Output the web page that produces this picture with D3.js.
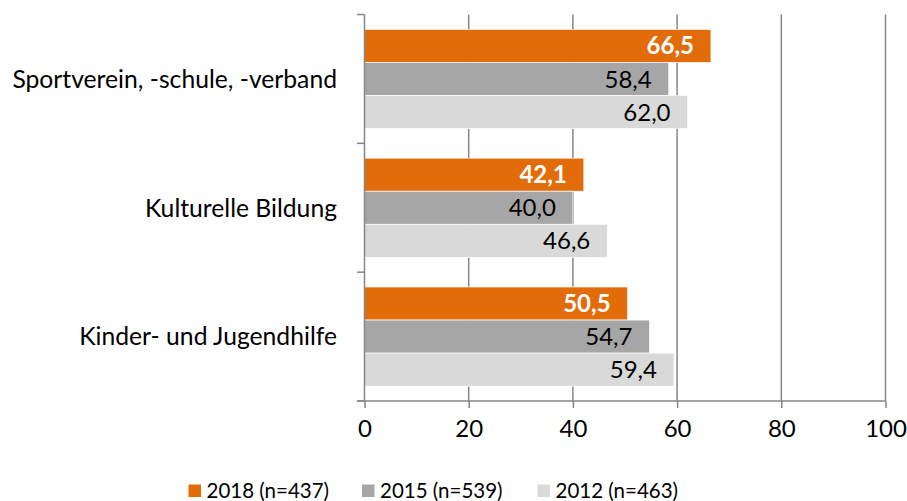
<!DOCTYPE html>
<html>
<head>
<meta charset="utf-8">
<script src="https://cdn.jsdelivr.net/npm/d3@7"></script>
<style>
  body { margin: 0; background: #fff; }
  svg text { font-family: Lato, "Open Sans", sans-serif; }
</style>
</head>
<body>
<svg id="chart" width="907" height="501"></svg>
<script>
// data
const categories = ['Sportverein, -schule, -verband', 'Kulturelle Bildung', 'Kinder- und Jugendhilfe'];
const seriesNames = ['2018 (n=437)', '2015 (n=539)', '2012 (n=463)'];
const values2018 = [66.5, 42.1, 50.5];
const values2015 = [58.4, 40.0, 54.7];
const values2012 = [62.0, 46.6, 59.4];
const xTicks = [0, 20, 40, 60, 80, 100];

const seriesColors = ['#E36C0A', '#A6A6A6', '#D9D9D9'];
const seriesValues = [values2018, values2015, values2012];

const svg = d3.select('#chart');
const gridColor = '#868686';

const x = d3.scaleLinear().domain([0, 100]).range([364.5, 885.5]);
const y = d3.scaleBand().domain(categories).range([14.5, 401])
  .paddingInner(0.23).paddingOuter(0.115);
const ySub = d3.scaleBand().domain(seriesNames).range([0, y.bandwidth()]);

// gridlines
svg.append('g')
  .selectAll('line')
  .data(xTicks.slice(1))
  .join('line')
  .attr('x1', d => x(d)).attr('x2', d => x(d))
  .attr('y1', 14.5).attr('y2', 401)
  .attr('stroke', gridColor)
  .attr('stroke-width', 1.5);

// bars
const rows = [];
categories.forEach((c, i) => {
  seriesNames.forEach((s, j) => {
    rows.push({ cat: c, series: s, idx: j, value: seriesValues[j][i] });
  });
});

const fmt = v => d3.format('.1f')(v).replace('.', ',');

const bars = svg.append('g')
  .selectAll('g')
  .data(rows)
  .join('g')
  .attr('transform', d => 'translate(0,' + (y(d.cat) + ySub(d.series)) + ')');

bars.append('rect')
  .attr('x', x(0))
  .attr('y', 0)
  .attr('width', d => x(d.value) - x(0))
  .attr('height', ySub.bandwidth())
  .attr('fill', d => seriesColors[d.idx])
  .attr('stroke', '#fff')
  .attr('stroke-width', 0.7);

bars.append('text')
  .attr('x', d => x(d.value) - 17)
  .attr('y', ySub.bandwidth() / 2)
  .attr('dy', '0.36em')
  .attr('text-anchor', 'end')
  .attr('font-size', 24)
  .attr('font-weight', d => d.idx === 0 ? 'bold' : 'normal')
  .attr('fill', d => d.idx === 0 ? '#fff' : '#000')
  .text(d => fmt(d.value));

// left axis: line plus ticks at band boundaries
const bandEdges = categories.map((c, i) => i === 0 ? 14.5 : y(c) - y.step() * y.paddingInner() / 2);
bandEdges.push(401);
const leftAxis = svg.append('g');
leftAxis.append('line')
  .attr('x1', x(0)).attr('x2', x(0))
  .attr('y1', 14.5).attr('y2', 401)
  .attr('stroke', gridColor).attr('stroke-width', 1.5);
leftAxis.selectAll('line.tick')
  .data(bandEdges)
  .join('line')
  .attr('class', 'tick')
  .attr('x1', x(0) - 7.5).attr('x2', x(0))
  .attr('y1', d => d).attr('y2', d => d)
  .attr('stroke', gridColor).attr('stroke-width', 1.5);

leftAxis.selectAll('text')
  .data(categories)
  .join('text')
  .attr('x', 337)
  .attr('y', d => y(d) + y.bandwidth() / 2)
  .attr('dy', '0.36em')
  .attr('text-anchor', 'end')
  .attr('font-size', 24.7)
  .attr('fill', '#000')
  .text(d => d);

// bottom axis
const bottomAxis = svg.append('g').attr('transform', 'translate(0,401)')
  .call(d3.axisBottom(x).tickValues(xTicks).tickSize(7).tickPadding(12).tickSizeOuter(0));
bottomAxis.select('.domain').remove();
bottomAxis.append('line')
  .attr('x1', x(0) - 7.5).attr('x2', x(100))
  .attr('stroke', gridColor).attr('stroke-width', 1.5);
bottomAxis.selectAll('.tick line').attr('stroke', gridColor).attr('stroke-width', 1.5);
bottomAxis.selectAll('.tick text')
  .attr('font-size', 24)
  .attr('font-family', 'Lato, "Open Sans", sans-serif')
  .attr('fill', '#000');

// legend
const legendX = [188.5, 362, 537.5];
const legend = svg.append('g')
  .selectAll('g')
  .data(seriesNames)
  .join('g')
  .attr('transform', (d, i) => 'translate(' + legendX[i] + ',484.5)');
legend.append('rect')
  .attr('width', 12.5).attr('height', 12.5)
  .attr('fill', (d, i) => seriesColors[i]);
legend.append('text')
  .attr('x', 18)
  .attr('y', 13)
  .attr('font-size', 20.5)
  .attr('fill', '#000')
  .text(d => d);
</script>
</body>
</html>
